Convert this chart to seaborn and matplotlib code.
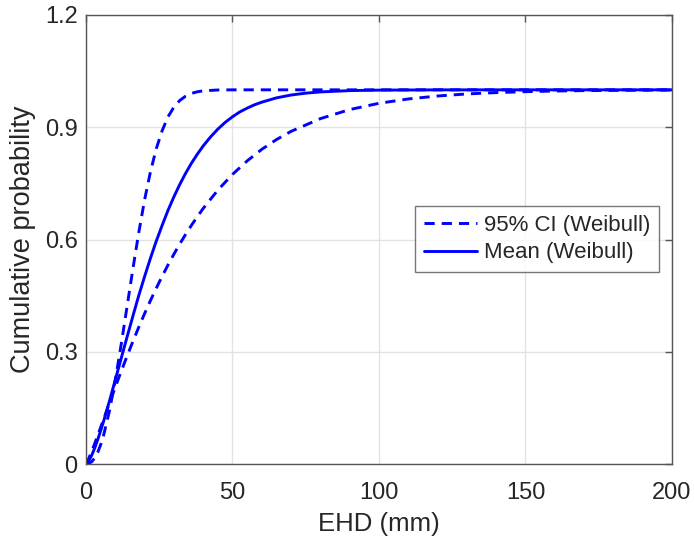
import matplotlib
matplotlib.use("Agg")
import matplotlib.pyplot as plt
import seaborn as sns
import pandas as pd

# EHD values (mm) at which the cumulative curves are tabulated
ehd_mean = [0, 1, 2, 3, 4, 5, 6, 8, 10, 12, 14, 16, 18, 20, 22, 24, 26, 28, 30,
            32, 34, 36, 38, 40, 42.5, 45, 47.5, 50, 52.5, 55, 57.5, 60, 65, 70,
            75, 80, 90, 100, 120, 150, 200]
cdf_mean = [0.0, 0.009, 0.024, 0.043, 0.065, 0.089, 0.114, 0.168, 0.225, 0.282,
            0.339, 0.395, 0.450, 0.501, 0.550, 0.596, 0.638, 0.678, 0.714, 0.747,
            0.777, 0.804, 0.828, 0.850, 0.874, 0.895, 0.913, 0.928, 0.941, 0.951,
            0.960, 0.967, 0.9785, 0.9861, 0.9911, 0.9944, 0.9979, 0.9992, 0.9999,
            1.0, 1.0]

ehd_upper = [0, 1, 2, 3, 4, 5, 6, 8, 10, 12, 14, 16, 18, 20, 22, 24, 26, 28, 30,
             32, 34, 36, 38, 40, 45, 50, 100, 150, 200]
cdf_upper = [0.0, 0.0014, 0.0065, 0.0164, 0.0312, 0.0512, 0.0764, 0.1416, 0.224,
             0.319, 0.420, 0.521, 0.618, 0.706, 0.781, 0.843, 0.891, 0.928,
             0.9536, 0.9715, 0.9831, 0.9904, 0.9948, 0.9973, 0.99955, 1.0, 1.0,
             1.0, 1.0]

ehd_lower = [0, 1, 2, 3, 4, 5, 6, 8, 10, 12, 14, 16, 18, 20, 22, 24, 26, 28, 30,
             32, 34, 36, 38, 40, 45, 50, 55, 60, 65, 70, 80, 90, 100, 110, 120,
             130, 140, 150, 160, 170, 180, 190, 200]
cdf_lower = [0.0, 0.0158, 0.0349, 0.0553, 0.0763, 0.0978, 0.1194, 0.1626, 0.2056,
             0.2474, 0.288, 0.3275, 0.3654, 0.402, 0.4368, 0.470, 0.5018, 0.532,
             0.5607, 0.588, 0.6137, 0.638, 0.661, 0.683, 0.732, 0.774, 0.810,
             0.841, 0.867, 0.889, 0.923, 0.9472, 0.964, 0.9756, 0.9835, 0.989,
             0.9926, 0.9951, 0.9968, 0.9979, 0.9986, 0.9991, 0.9994]

x_ticks = [0, 50, 100, 150, 200]
y_ticks = [0, 0.3, 0.6, 0.9, 1.2]
y_tick_labels = ["0", "0.3", "0.6", "0.9", "1.2"]

sns.set_theme(style="white")
plt.rcParams["font.family"] = ["Liberation Sans", "DejaVu Sans"]

text_color = "#262626"
blue = "#0000ff"

fig = plt.figure(figsize=(6.94, 5.41), dpi=100)
ax = fig.add_axes([0.1239, 0.1423, 0.8444, 0.8300])

df_upper = pd.DataFrame({"EHD": ehd_upper, "F": cdf_upper})
df_lower = pd.DataFrame({"EHD": ehd_lower, "F": cdf_lower})
df_mean = pd.DataFrame({"EHD": ehd_mean, "F": cdf_mean})

lw = 2.1
dash = (3.5, 2.4)
sns.lineplot(data=df_upper, x="EHD", y="F", ax=ax, color=blue, lw=lw,
             label="95% CI (Weibull)", sort=False)
ax.lines[-1].set_dashes(dash)
sns.lineplot(data=df_lower, x="EHD", y="F", ax=ax, color=blue, lw=lw,
             label="_nolegend_", sort=False)
ax.lines[-1].set_dashes(dash)
sns.lineplot(data=df_mean, x="EHD", y="F", ax=ax, color=blue, lw=lw,
             label="Mean (Weibull)", sort=False)

ax.set_xlim(0, 200)
ax.set_ylim(0, 1.2)
ax.set_xticks(x_ticks)
ax.set_yticks(y_ticks)
ax.set_yticklabels(y_tick_labels)
ax.grid(True, color="#e3e3e3", lw=1.0)
ax.set_axisbelow(True)

for sp in ax.spines.values():
    sp.set_color("#555555")
    sp.set_linewidth(1.0)
ax.tick_params(direction="in", length=5, width=1.0, color="#555555",
               top=True, right=True, labelsize=17, labelcolor=text_color)
ax.tick_params(axis="x", pad=13)
ax.tick_params(axis="y", pad=6)

ax.set_xlabel("EHD (mm)", fontsize=18.5, color=text_color, labelpad=6)
ax.set_ylabel("Cumulative probability", fontsize=19.5, color=text_color, labelpad=6)

leg = ax.legend(loc="upper right", bbox_to_anchor=(0.978, 0.575), fontsize=16,
                frameon=True, fancybox=False, edgecolor="#555555",
                handlelength=2.4, handletextpad=0.3, borderpad=0.4,
                labelspacing=0.3, borderaxespad=0)
leg.get_frame().set_linewidth(1.0)
for t in leg.get_texts():
    t.set_color(text_color)

fig.savefig("out.png", dpi=100)
